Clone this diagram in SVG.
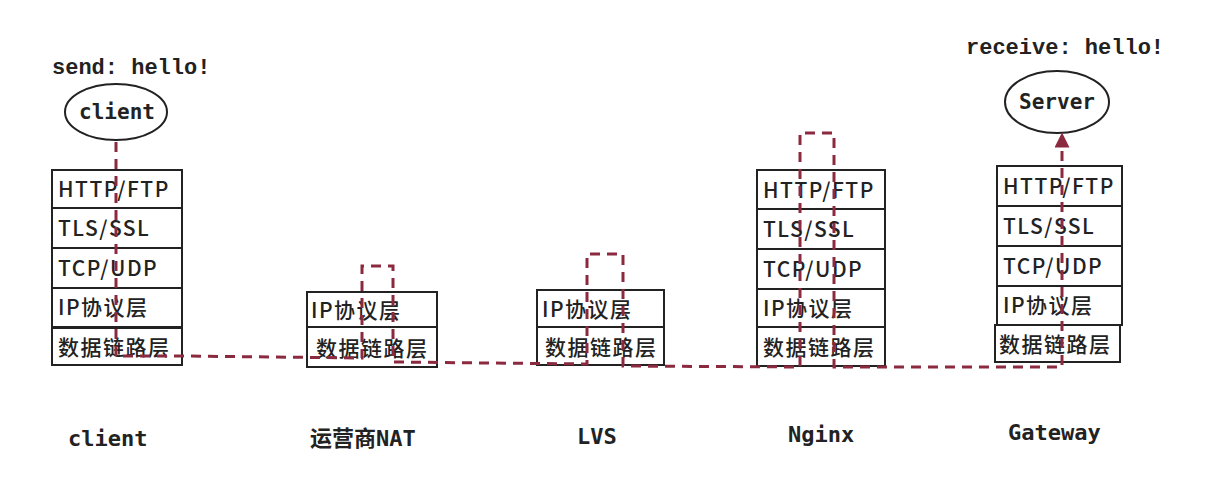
<svg xmlns="http://www.w3.org/2000/svg" width="1216" height="480" viewBox="0 0 1216 480">
<defs>
<style>
.box{fill:#fff;stroke:#222;stroke-width:2}
.bt{font-family:"Noto Sans CJK SC","Noto Sans",sans-serif;font-weight:500;font-size:21px;letter-spacing:1.5px;fill:#222}
.ell{fill:#fff;stroke:#222;stroke-width:2}
.et{font-family:"DejaVu Sans Mono","Liberation Mono",monospace;font-weight:bold;font-size:21px;fill:#222}
.msg{font-family:"Liberation Mono","Courier New",monospace;font-weight:bold;font-size:22px;fill:#222}
.lbl{font-family:"DejaVu Sans Mono","Noto Sans CJK SC",monospace;font-size:22px;fill:#222;font-weight:bold}
.dash{fill:none;stroke:#8b2a3e;stroke-width:3;stroke-dasharray:10 7}
</style>
<marker id="arr" viewBox="0 0 10 10" refX="5" refY="5" markerWidth="5" markerHeight="5" orient="auto">
<path d="M0,0 L10,5 L0,10 z" fill="#8b2a3e"/>
</marker>
</defs>
<rect width="1216" height="480" fill="#fff"/>

<g id="client-node">
<text class="msg" x="52" y="74">send: hello!</text>
<ellipse class="ell" cx="116" cy="112" rx="51" ry="28"/>
<text class="et" x="117" y="119" text-anchor="middle">client</text>
<rect class="box" x="52" y="170" width="130" height="38"/>
<text class="bt" x="58" y="197">HTTP/FTP</text>
<rect class="box" x="52" y="208" width="130" height="40"/>
<text class="bt" x="58" y="236">TLS/SSL</text>
<rect class="box" x="52" y="248" width="130" height="40"/>
<text class="bt" x="58" y="276">TCP/UDP</text>
<rect class="box" x="52" y="288" width="130" height="39"/>
<text class="bt" x="58" y="315">IP协议层</text>
<rect class="box" x="52" y="328" width="130" height="37"/>
<text class="bt" x="58" y="355">数据链路层</text>
<text class="lbl" x="68" y="446">client</text>
</g>

<g id="nat-node">
<rect class="box" x="307" y="292" width="130" height="35"/>
<text class="bt" x="311" y="318">IP协议层</text>
<rect class="box" x="307" y="327" width="130" height="40"/>
<text class="bt" x="316" y="356">数据链路层</text>
<text class="lbl" x="310" y="446">运营商NAT</text>
</g>

<g id="lvs-node">
<rect class="box" x="537" y="290" width="127" height="37"/>
<text class="bt" x="542" y="317">IP协议层</text>
<rect class="box" x="537" y="327" width="127" height="38"/>
<text class="bt" x="545" y="355">数据链路层</text>
<text class="lbl" x="577" y="444">LVS</text>
</g>

<g id="nginx-node">
<rect class="box" x="757" y="170" width="128" height="39"/>
<text class="bt" x="763" y="198">HTTP/FTP</text>
<rect class="box" x="757" y="209" width="128" height="40"/>
<text class="bt" x="763" y="237">TLS/SSL</text>
<rect class="box" x="757" y="249" width="128" height="40"/>
<text class="bt" x="763" y="277">TCP/UDP</text>
<rect class="box" x="757" y="289" width="128" height="38"/>
<text class="bt" x="763" y="316">IP协议层</text>
<rect class="box" x="757" y="327" width="128" height="39"/>
<text class="bt" x="763" y="355">数据链路层</text>
<text class="lbl" x="788" y="442">Nginx</text>
</g>

<g id="gateway-node">
<text class="msg" x="966" y="54">receive: hello!</text>
<ellipse class="ell" cx="1057" cy="102" rx="52" ry="31"/>
<text class="et" x="1057" y="109" text-anchor="middle">Server</text>
<rect class="box" x="997" y="166" width="125" height="40"/>
<text class="bt" x="1003" y="194">HTTP/FTP</text>
<rect class="box" x="997" y="206" width="125" height="40"/>
<text class="bt" x="1003" y="234">TLS/SSL</text>
<rect class="box" x="997" y="246" width="125" height="40"/>
<text class="bt" x="1003" y="274">TCP/UDP</text>
<rect class="box" x="997" y="286" width="125" height="39"/>
<text class="bt" x="1003" y="313">IP协议层</text>
<rect class="box" x="995" y="325" width="125" height="37"/>
<text class="bt" x="999" y="352">数据链路层</text>
<text class="lbl" x="1008" y="440">Gateway</text>
</g>

<g id="connectors">
<path class="dash" d="M116,142 L116,356 L182,356 L362,358 L362,266 L393,266 L393,362 L587,364 L587,254 L623,254 L623,366 L800,367 L800,133 L834,133 L834,367 L1062,367 L1062,140" marker-end="url(#arr)"/>
</g>
</svg>
